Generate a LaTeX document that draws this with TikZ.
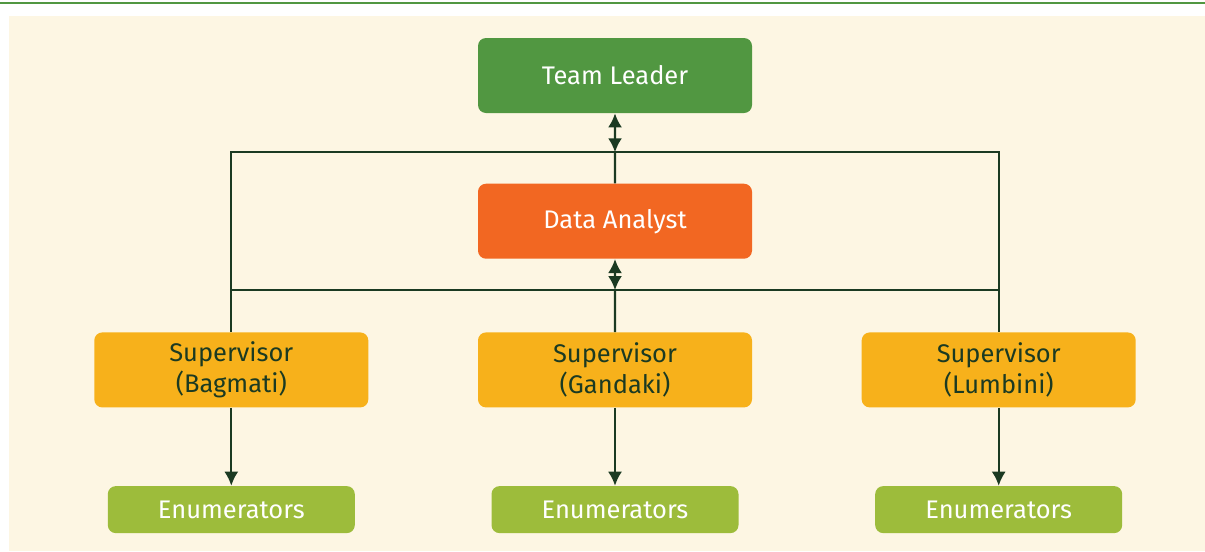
\documentclass[tikz,border=0pt]{standalone}
\usepackage{fontspec}
\setmainfont{Fira Sans}
\usetikzlibrary{arrows.meta,positioning,calc}

\definecolor{leadgreen}{HTML}{519741}
\definecolor{analystorange}{HTML}{F26722}
\definecolor{supyellow}{HTML}{F7B11B}
\definecolor{enumgreen}{HTML}{9DBC3B}
\definecolor{cream}{HTML}{FDF6E3}
\definecolor{darkline}{HTML}{1B3A22}

\begin{document}
\begin{tikzpicture}[node distance=1.4cm,
>={Latex[length=8pt,width=8pt]},
role/.style={rectangle,rounded corners=0.16cm,minimum width=5.48cm,minimum height=1.5cm,align=center,font=\fontsize{14.5}{18}\selectfont},
enum/.style={rectangle,rounded corners=0.16cm,minimum width=4.94cm,minimum height=0.94cm,fill=enumgreen,text=white,font=\fontsize{14.5}{18}\selectfont},
link/.style={line width=1.3pt,draw=darkline}]

\useasboundingbox (0,0) rectangle (24.1,-11.02);
\fill[cream] (0.18,-0.32) rectangle (24.1,-11.02);
\draw[leadgreen, line width=1.2pt] (0,-0.06) -- (24.1,-0.06);

\node[role, fill=leadgreen, text=white] (lead) at (12.3,-1.51) {Team Leader};
\node[role, fill=analystorange, text=white, below=of lead] (da) {Data Analyst};
\node[role, fill=supyellow, text=darkline, below=1.46cm of da] (sg) {Supervisor\\(Gandaki)};
\node[role, fill=supyellow, text=darkline, left=2.18cm of sg] (sb) {Supervisor\\(Bagmati)};
\node[role, fill=supyellow, text=darkline, right=2.18cm of sg] (sl) {Supervisor\\(Lumbini)};
\node[enum, below=1.56cm of sb] (eb) {Enumerators};
\node[enum, below=1.56cm of sg] (eg) {Enumerators};
\node[enum, below=1.56cm of sl] (el) {Enumerators};

\coordinate (bus1) at ($(lead.south)!0.557!(da.north)$);
\coordinate (bus2) at ($(da.south)!0.425!(sg.north)$);

\draw[link, <->] (lead) -- (bus1);
\draw[link] (bus1) -- (da);
\draw[link, <->] (da) -- (bus2);
\draw[link] (bus2) -- (sg);
\draw[link] (sb.north) |- (bus1) -| (sl.north);
\draw[link] (sb.north |- bus2) -- (sl.north |- bus2);
\draw[link, ->] (sb) -- (eb);
\draw[link, ->] (sg) -- (eg);
\draw[link, ->] (sl) -- (el);
\end{tikzpicture}
\end{document}
